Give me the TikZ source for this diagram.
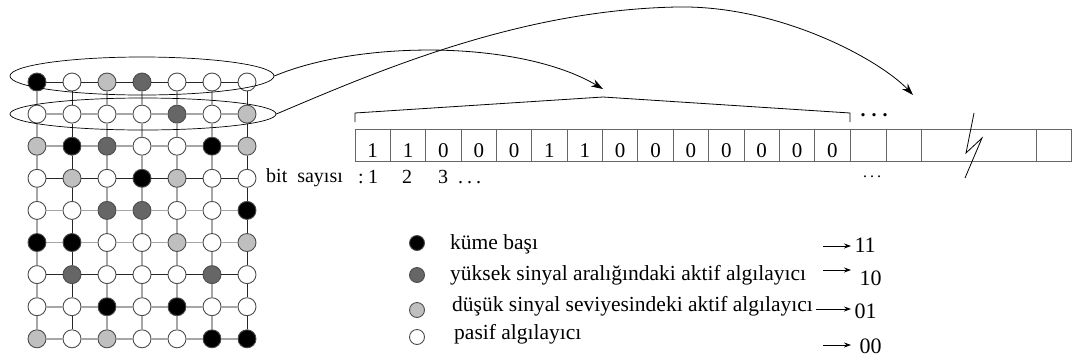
\documentclass[tikz,border=0pt]{standalone}
\usepackage{fontspec}
\setmainfont{Liberation Serif}
\usetikzlibrary{arrows.meta,shapes.geometric}
\begin{document}
\begin{tikzpicture}[x=1pt,y=-1pt,
  sensor/.style={circle,draw=black!70,line width=0.9pt,minimum size=18pt,inner sep=0pt},
  kb/.style={sensor,fill=black},
  ya/.style={sensor,fill=black!60},
  da/.style={sensor,fill=black!25},
  pa/.style={sensor,fill=white},
  ledge/.style={draw=black!35,line width=1.6pt},
  dedge/.style={draw=black!85,line width=0.8pt},
  ring/.style={draw,ellipse,line width=0.7pt,inner sep=0pt},
  cell/.style={draw=black!60,line width=0.9pt,minimum height=32pt,inner sep=0pt},
  digit/.style={font=\fontsize{21}{21}\selectfont,anchor=base,inner sep=0pt},
  bigarrow/.style={line width=0.8pt,-{Stealth[length=12pt,width=8pt]}},
  legtext/.style={font=\fontsize{21.5}{21.5}\selectfont,anchor=base west,inner sep=0pt},
  legnum/.style={font=\fontsize{22}{22}\selectfont,anchor=base west},
  legarrow/.style={line width=0.8pt,-{Stealth[length=7pt,width=5pt]}},
  smalltext/.style={font=\fontsize{20}{20}\selectfont,inner sep=0pt}
]
\path[use as bounding box] (0,0) rectangle (1078,360);

% ---------- sensor grid ----------
\foreach \row [count=\r] in {
  {kb,pa,da,ya,pa,pa,pa},
  {pa,pa,pa,pa,ya,pa,da},
  {da,kb,ya,pa,pa,kb,da},
  {pa,da,pa,kb,da,pa,pa},
  {pa,pa,ya,ya,pa,pa,kb},
  {kb,kb,pa,pa,da,pa,da},
  {pa,ya,pa,pa,pa,ya,pa},
  {pa,pa,kb,pa,kb,pa,pa},
  {da,pa,da,pa,pa,kb,kb}} {
  \foreach \s [count=\c] in \row {
    \node[\s] (n\r\c) at ({37+35*(\c-1)},{82+32.1*(\r-1)}) {};
  }
}
% horizontal edges
\foreach \r in {1,...,9} {
  \foreach \c [evaluate=\c as \d using int(\c+1)] in {1,...,6} {
    \ifnum\r=1 \draw[dedge] (n\r\c) -- (n\r\d);
    \else\ifnum\r=4 \draw[dedge] (n\r\c) -- (n\r\d);
    \else\ifnum\r=7 \draw[dedge] (n\r\c) -- (n\r\d);
    \else \draw[ledge] (n\r\c) -- (n\r\d);
    \fi\fi\fi
  }
}
% vertical edges
\foreach \c in {1,...,7} {
  \foreach \r [evaluate=\r as \q using int(\r+1)] in {1,...,8} {
    \ifnum\c=2 \draw[dedge] (n\r\c) -- (n\q\c);
    \else\ifnum\c=7 \draw[dedge] (n\r\c) -- (n\q\c);
    \else \draw[ledge] (n\r\c) -- (n\q\c);
    \fi\fi
  }
}

% ---------- ellipses ----------
\node[ring,minimum width=264pt,minimum height=38pt] (e1) at (142,76) {};
\node[ring,minimum width=266pt,minimum height=32pt] (e2) at (143,114) {};

% ---------- bit array ----------
\foreach \k in {1,...,14}
  \node[cell,minimum width=35.36pt] (c\k) at ({355+35.36*(\k-0.5)},145) {};
\node[cell,minimum width=36pt]  (c15) at (868,145) {};
\node[cell,minimum width=35pt]  (c16) at (903.5,145) {};
\node[cell,minimum width=115pt] (c17) at (978.5,145) {};
\node[cell,minimum width=35pt]  (c18) at (1053.5,145) {};
\foreach \b [count=\k] in {1,1,0,0,0,1,1,0,0,0,0,0,0,0}
  \node[digit] (d\k) at ({355+35.36*(\k-0.5)},157) {\b};

% break mark
\draw[line width=0.8pt] (974,113) -- (966,153) -- (982,138) -- (965,178);

% bracket
\coordinate (bl) at (355,122);
\coordinate (bp) at (603,97);
\coordinate (br) at (850,122);
\draw[line width=0.8pt] (bl) -- ++(0,-9) -- (bp) -- (850,113) -- (br);

% dots
\node[font=\fontsize{20}{20}\selectfont\bfseries,inner sep=0pt] (dotsup) at (874,115) {.\hspace{6pt}.\hspace{6pt}.};
\node[font=\fontsize{16}{16}\selectfont,inner sep=0pt] (dotsdn) at (872,177) {.\hspace{3pt}.\hspace{3pt}.};

% bit numbers
\node[smalltext,anchor=base west] (bs) at (266,182) {bit\ \ sayısı};
\node[smalltext,anchor=base] (col) at (361,183) {:};
\node[smalltext,anchor=base] (b1) at (373,183) {1};
\node[smalltext,anchor=base] (b2) at (407,183) {2};
\node[smalltext,anchor=base] (b3) at (443,183) {3};
\node[smalltext,anchor=base west] (b4) at (458,183) {.\hspace{4pt}.\hspace{4pt}.};

% ---------- curved arrows ----------
\coordinate (t1) at (603,89);
\coordinate (t2) at (913,95);
\draw[bigarrow] (e1.east) .. controls (360,40) and (520,40) .. (t1);
\draw[bigarrow] (e2.east) .. controls (380,70) and (520,10) .. (677,7)
                 .. controls (780,5) and (880,60) .. (t2);

% ---------- legend ----------
\node[kb,minimum size=15pt] (l1) at (417,243) {};
\node[ya,minimum size=15pt] (l2) at (417,275) {};
\node[da,minimum size=15pt] (l3) at (417,310) {};
\node[pa,minimum size=15pt] (l4) at (417,337) {};
\node[legtext] (lt1) at (450,249) {küme başı};
\node[legtext] (lt2) at (450,280) {yüksek sinyal aralığındaki aktif algılayıcı};
\node[legtext] (lt3) at (452,311) {düşük sinyal seviyesindeki aktif algılayıcı};
\node[legtext] (lt4) at (454,339) {pasif algılayıcı};

\node[legnum] (v1) at (851,252) {11};
\node[legnum] (v2) at (856,285) {10};
\node[legnum] (v3) at (851,318) {01};
\node[legnum] (v4) at (856,353) {00};
\coordinate (a1) at (823,246);
\coordinate (a2) at (823,270);
\coordinate (a3) at (816,309);
\coordinate (a4) at (823,345);
\draw[legarrow] (a1) -- (a1 -| v1.west);
\draw[legarrow] (a2) -- (a2 -| v1.west);
\draw[legarrow] (a3) -- (a3 -| v1.west);
\draw[legarrow] (a4) -- (a4 -| v1.west);
\end{tikzpicture}
\end{document}
